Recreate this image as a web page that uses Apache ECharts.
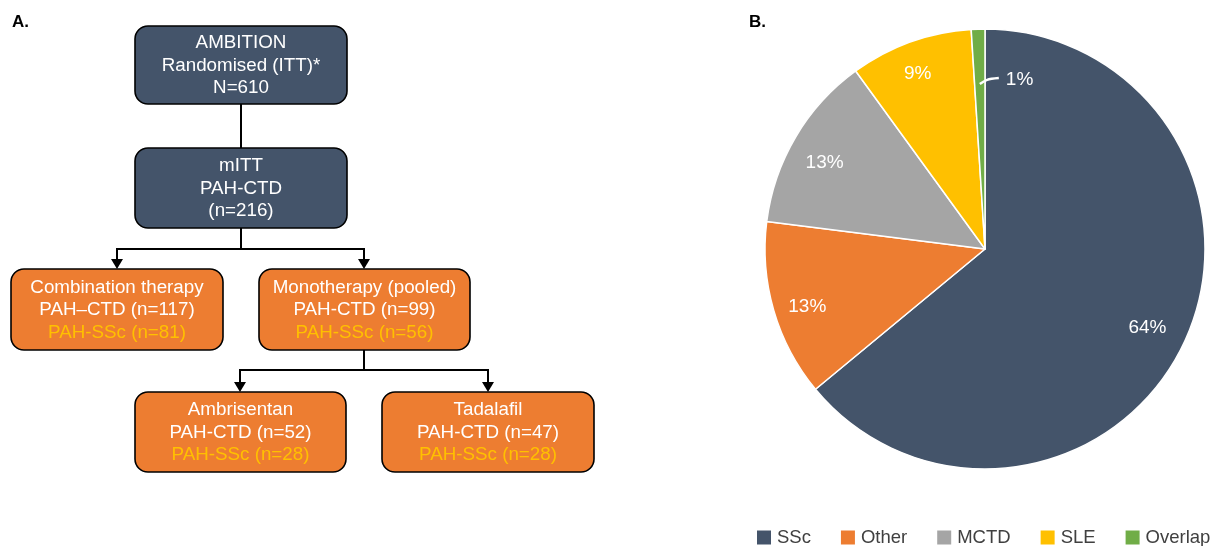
<!DOCTYPE html>
<html>
<head>
<meta charset="utf-8">
<script src="https://cdn.jsdelivr.net/npm/echarts@6/dist/echarts.min.js"></script>
<style>
html,body{margin:0;padding:0;background:#fff;}
#main{width:1213px;height:546px;}
</style>
</head>
<body>
<div id="main"></div>
<script>
// ---- Data ----
var pieCategories = ['SSc', 'Other', 'MCTD', 'SLE', 'Overlap'];
var pieValues = [64, 13, 13, 9, 1];

// Flowchart node texts (line1, line2, line3 [highlighted])
var nodeTitles = ['AMBITION', 'mITT', 'Combination therapy', 'Monotherapy (pooled)', 'Ambrisentan', 'Tadalafil'];
var nodeLine2 = ['Randomised (ITT)*', 'PAH-CTD', 'PAH\u2013CTD (n=117)', 'PAH-CTD (n=99)', 'PAH-CTD (n=52)', 'PAH-CTD (n=47)'];
var nodeLine3 = ['N=610', '(n=216)', 'PAH-SSc (n=81)', 'PAH-SSc (n=56)', 'PAH-SSc (n=28)', 'PAH-SSc (n=28)'];
var nodeHighlight = [false, false, true, true, true, true];

// ---- Styles / layout ----
var FONT = '"Liberation Sans", Arial, sans-serif';
var pieColors = ['#44546A', '#ED7D31', '#A5A5A5', '#FFC000', '#70AD47'];
var labelNudge = [[-4, 0], [-1, 6], [-2, 7], [-5, -2], [0, 0]];
var nodeFill = ['#44546A', '#44546A', '#ED7D31', '#ED7D31', '#ED7D31', '#ED7D31'];
var nodeBoxes = [
  [135, 26, 212, 78],
  [135, 148, 212, 80],
  [11, 269, 212, 81],
  [259, 269, 211, 81],
  [135, 392, 211, 80],
  [382, 392, 212, 80]
];

var graphics = [];
graphics.push({type:'text', left:12, top:14, style:{text:'A.', font:'bold 17px ' + FONT, fill:'#000'}});
graphics.push({type:'text', left:749, top:14, style:{text:'B.', font:'bold 17px ' + FONT, fill:'#000'}});

function line(x1,y1,x2,y2){
  graphics.push({type:'line', shape:{x1:x1,y1:y1,x2:x2,y2:y2}, style:{stroke:'#000', lineWidth:2}, z:1});
}
function arrow(x, yTop, yTip){
  line(x, yTop, x, yTip - 9);
  graphics.push({type:'polygon', shape:{points:[[x-6, yTip-10],[x+6, yTip-10],[x, yTip]]}, style:{fill:'#000'}, z:1});
}
// connectors
line(241, 104, 241, 148);
line(241, 228, 241, 249);
line(116, 249, 365, 249);
arrow(117, 249, 269);
arrow(364, 249, 269);
line(364, 350, 364, 370);
line(239, 370, 489, 370);
arrow(240, 370, 392);
arrow(488, 370, 392);

nodeBoxes.forEach(function(b, i){
  graphics.push({type:'rect', shape:{x:b[0], y:b[1], width:b[2], height:b[3], r:13},
    style:{fill:nodeFill[i], stroke:'#000', lineWidth:1.6}, z:2});
  var t3 = nodeHighlight[i] ? '{y|' + nodeLine3[i] + '}' : nodeLine3[i];
  graphics.push({type:'text', x:b[0] + b[2]/2, y:b[1] + b[3]/2 + 0.5, z:3,
    style:{text: nodeTitles[i] + '\n' + nodeLine2[i] + '\n' + t3,
      fill:'#fff', fontSize:18.8, fontFamily:FONT, lineHeight:22.5,
      align:'center', verticalAlign:'middle',
      rich:{y:{fill:'#FFC000', fontSize:18.8, fontFamily:FONT, lineHeight:22.5}}}});
});

var pieData = pieCategories.map(function(n, i){ return {name:n, value:pieValues[i], itemStyle:{color:pieColors[i]}}; });
var labelData = pieCategories.map(function(n, i){ return {name:n, value:pieValues[i], label:{show: n !== 'Overlap', offset: labelNudge[i]}}; });
var overlapData = pieCategories.map(function(n, i){ return {name:n, value:pieValues[i], label:{show: n === 'Overlap'}, labelLine:{show: n === 'Overlap'}}; });

var chart = echarts.init(document.getElementById('main'), null, {renderer:'canvas'});
chart.setOption({
  animation:false,
  backgroundColor:'#fff',
  textStyle:{fontFamily:FONT},
  legend:{
    data:pieCategories, left:757, top:528, width:456, padding:0, icon:'rect',
    itemWidth:14, itemHeight:14, itemGap:30,
    itemStyle:{borderWidth:0},
    textStyle:{fontSize:18.5, color:'#404040', fontFamily:FONT, padding:[0,0,0,1]}, selectedMode:false
  },
  graphic:graphics,
  series:[
    {type:'pie', center:[985, 249], radius:[0, 220], startAngle:90, clockwise:true, z:2,
      data:pieData, label:{show:false}, labelLine:{show:false},
      itemStyle:{borderColor:'#fff', borderWidth:1.5}, emphasis:{disabled:true}, silent:true},
    {type:'pie', center:[985, 249], radius:[142, 220], startAngle:90, clockwise:true, z:3,
      data:labelData, itemStyle:{color:'transparent', borderWidth:0},
      label:{position:'inside', formatter:'{d}%', color:'#fff', fontSize:19, fontFamily:FONT},
      labelLine:{show:false}, emphasis:{disabled:true}, silent:true, avoidLabelOverlap:false},
    {type:'pie', center:[985, 249], radius:[0, 165], startAngle:90, clockwise:true, z:4,
      data:overlapData, itemStyle:{color:'transparent', borderWidth:0},
      label:{position:'outside', formatter:'{d}%', color:'#fff', fontSize:19, fontFamily:FONT},
      labelLine:{show:true, lineStyle:{color:'#fff', width:2.5}, smooth:0.4, length:5, length2:14},
      avoidLabelOverlap:false, emphasis:{disabled:true}, silent:true,
      labelLayout:function(p){
        if (!p.labelLinePoints) return {};
        var s = p.labelLinePoints[0];
        return {x: s[0] + 26, y: s[1] - 4, align:'left', verticalAlign:'middle',
          labelLinePoints:[[s[0], s[1]], [s[0] + 7, s[1] - 5], [s[0] + 19, s[1] - 6]]};
      }}
  ]
});
</script>
</body>
</html>
